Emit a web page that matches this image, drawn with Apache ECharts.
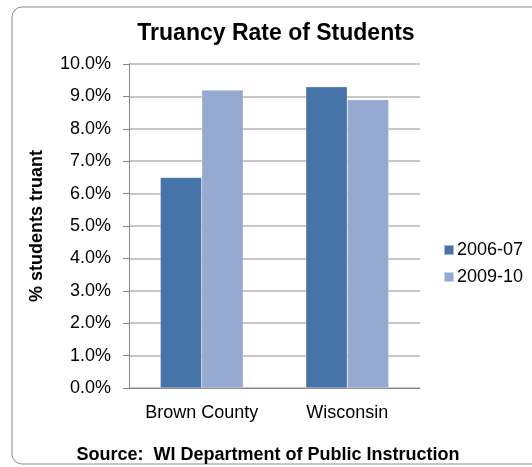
<!DOCTYPE html>
<html>
<head>
<meta charset="utf-8">
<script src="https://cdn.jsdelivr.net/npm/echarts@6/dist/echarts.min.js"></script>
<style>
html,body{margin:0;padding:0;background:#fff;}
#chart{width:532px;height:467px;}
</style>
</head>
<body>
<div id="chart"></div>
<script>
// data
var categories = ['Brown County', 'Wisconsin'];
var seriesNames = ['2006-07', '2009-10'];
var rate0607 = [6.5, 9.3];
var rate0910 = [9.2, 8.9];
var colors = ['#4673A8', '#95A9D1'];

var font = 'Liberation Sans, Arial, sans-serif';
var chart = echarts.init(document.getElementById('chart'));

option = {
    animation: false,
    color: colors,
    textStyle: {fontFamily: font},
    title: {
        text: 'Truancy Rate of Students',
        left: 271,
        textAlign: 'center',
        top: 17,
        textStyle: {fontSize: 23, fontWeight: 'bold', color: '#000', fontFamily: font}
    },
    graphic: [
        {
            type: 'rect',
            shape: {x: 12, y: 7, width: 540, height: 457, r: 10},
            style: {fill: 'none', stroke: '#8c8c8c', lineWidth: 1},
            silent: true
        },
        {
            type: 'text',
            x: 268,
            y: 446,
            style: {
                text: 'Source:  WI Department of Public Instruction',
                font: 'bold 18px Liberation Sans, Arial, sans-serif',
                fill: '#000',
                align: 'center'
            }
        }
    ],
    legend: {
        orient: 'vertical',
        left: 438,
        top: 236,
        itemWidth: 10,
        itemHeight: 10,
        itemGap: 9,
        icon: 'rect',
        data: seriesNames,
        textStyle: {fontSize: 18, color: '#000', fontFamily: font, padding: [0, 0, 0, -2]}
    },
    grid: {left: 129, right: 112, top: 64, bottom: 79},
    xAxis: {
        type: 'category',
        data: categories,
        axisLine: {lineStyle: {color: '#888'}},
        axisTick: {show: false},
        axisLabel: {interval: 0, fontSize: 18, color: '#000', margin: 16, fontFamily: font}
    },
    yAxis: {
        type: 'value',
        min: 0,
        max: 10,
        interval: 1,
        name: '% students truant',
        nameLocation: 'middle',
        nameGap: 83,
        nameTextStyle: {fontSize: 18, fontWeight: 'bold', color: '#000', fontFamily: font},
        axisLine: {show: true, lineStyle: {color: '#888'}},
        axisTick: {show: true, length: 6, lineStyle: {color: '#888'}},
        splitLine: {lineStyle: {color: '#b4b4b4', width: 1.5}},
        axisLabel: {
            fontSize: 18,
            color: '#000',
            margin: 18,
            fontFamily: font,
            formatter: function (v) { return v.toFixed(1) + '%'; }
        }
    },
    series: [
        {
            name: seriesNames[0],
            type: 'bar',
            data: rate0607,
            barGap: '0%',
            barCategoryGap: '43%',
            itemStyle: {borderColor: 'rgba(255,255,255,0.5)', borderWidth: 0.5}
        },
        {
            name: seriesNames[1],
            type: 'bar',
            data: rate0910,
            itemStyle: {borderColor: 'rgba(255,255,255,0.5)', borderWidth: 0.5}
        }
    ]
};
chart.setOption(option);
</script>
</body>
</html>
